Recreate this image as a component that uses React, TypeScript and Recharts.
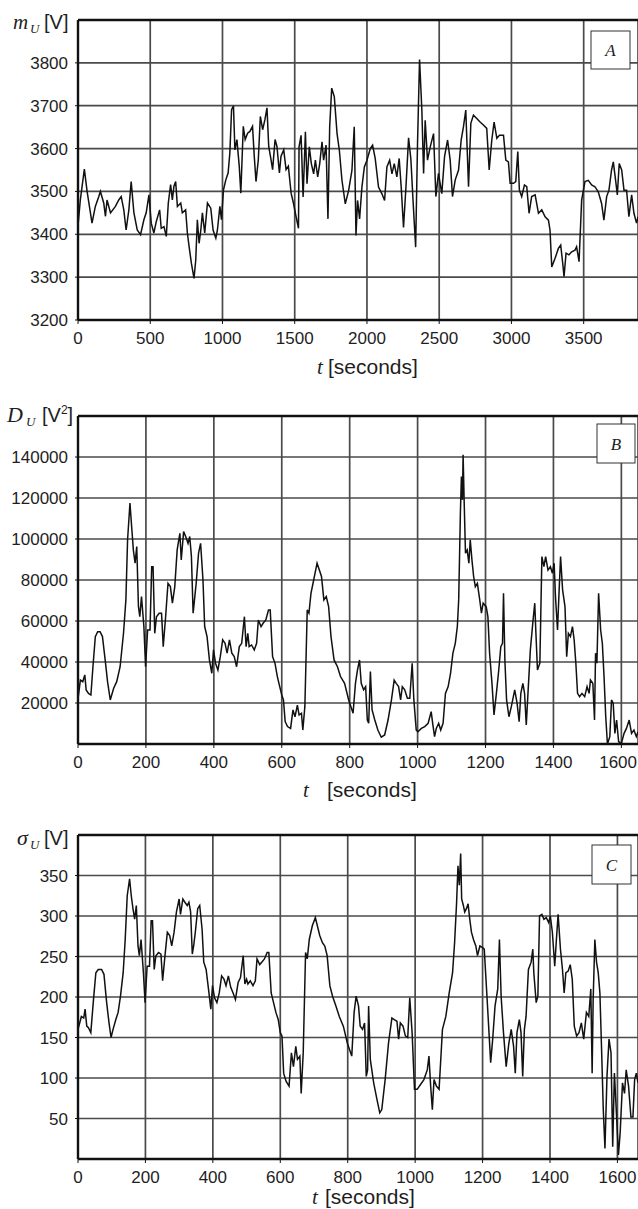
import React from 'react';
import { LineChart, Line, XAxis, YAxis, CartesianGrid, ReferenceLine } from 'recharts';

const SANS = '"Liberation Sans", Arial, sans-serif';
const SERIF = '"Liberation Serif", "Times New Roman", serif';

// Panel A: mean voltage m_U [V] over t [seconds]
const timeA = [
  0, 16, 44, 63, 86, 97, 120, 144, 155, 178,
  190, 201, 225, 259, 282, 299, 317, 333, 352, 368,
  387, 410, 433, 456, 472, 491, 507, 525, 542, 565,
  576, 595, 611, 625, 641, 653, 664, 676, 688, 711,
  722, 745, 757, 769, 785, 803, 815, 826, 838, 850,
  861, 877, 896, 919, 935, 954, 965, 982, 993, 1007,
  1023, 1039, 1051, 1063, 1076, 1086, 1100, 1116, 1127, 1144,
  1157, 1174, 1190, 1208, 1220, 1232, 1248, 1262, 1278, 1294,
  1308, 1320, 1336, 1347, 1364, 1377, 1394, 1405, 1424, 1440,
  1456, 1475, 1491, 1509, 1526, 1530, 1544, 1558, 1574, 1585,
  1601, 1615, 1631, 1643, 1659, 1673, 1689, 1700, 1717, 1730,
  1742, 1756, 1774, 1793, 1809, 1827, 1850, 1873, 1896, 1912,
  1924, 1935, 1949, 1965, 1982, 2000, 2023, 2039, 2057, 2080,
  2103, 2122, 2138, 2157, 2173, 2189, 2207, 2223, 2237, 2253,
  2270, 2288, 2304, 2320, 2337, 2350, 2364, 2380, 2392, 2403,
  2419, 2438, 2461, 2477, 2495, 2518, 2537, 2558, 2576, 2592,
  2611, 2634, 2652, 2668, 2684, 2703, 2719, 2737, 2760, 2783,
  2806, 2829, 2846, 2864, 2880, 2899, 2917, 2945, 2961, 2979,
  2991, 3014, 3030, 3044, 3055, 3071, 3090, 3106, 3122, 3140,
  3164, 3187, 3210, 3233, 3256, 3267, 3279, 3302, 3325, 3341,
  3355, 3364, 3378, 3398, 3417, 3440, 3451, 3468, 3486, 3509,
  3532, 3555, 3578, 3601, 3624, 3640, 3659, 3675, 3693, 3705,
  3721, 3733, 3746, 3763, 3779, 3797, 3813, 3832, 3848, 3866,
  3876
];
const meanU = [
  3420, 3480, 3552, 3500, 3450, 3426, 3465, 3488, 3500, 3473,
  3442, 3480, 3450, 3465, 3480, 3488, 3457, 3410, 3457, 3523,
  3450, 3410, 3399, 3434, 3450, 3492, 3426, 3403, 3430, 3457,
  3414, 3418, 3395, 3473, 3516, 3480, 3512, 3523, 3465, 3473,
  3450, 3457, 3403, 3371, 3332, 3297, 3340, 3434, 3379, 3410,
  3450, 3403, 3473, 3461, 3410, 3391, 3410, 3465, 3434, 3504,
  3527, 3543, 3590, 3691, 3700, 3597, 3621, 3559, 3496, 3652,
  3621, 3636, 3640, 3652, 3582, 3523, 3574, 3675, 3644, 3668,
  3695, 3605, 3574, 3551, 3621, 3605, 3543, 3582, 3597, 3551,
  3559, 3496, 3473, 3442, 3414, 3604, 3631, 3487, 3639, 3518,
  3604, 3565, 3541, 3573, 3534, 3565, 3616, 3573, 3608, 3436,
  3651, 3741, 3721, 3635, 3596, 3526, 3471, 3502, 3549, 3651,
  3397, 3479, 3436, 3510, 3557, 3573, 3600, 3608, 3577, 3510,
  3495, 3479, 3557, 3573, 3541, 3565, 3534, 3577, 3510, 3416,
  3511, 3625, 3575, 3472, 3370, 3612, 3808, 3690, 3542, 3666,
  3573, 3604, 3635, 3488, 3542, 3495, 3581, 3620, 3573, 3488,
  3527, 3550, 3620, 3651, 3690, 3511, 3659, 3678, 3670, 3662,
  3655, 3647, 3550, 3620, 3662, 3624, 3631, 3631, 3573, 3569,
  3519, 3519, 3523, 3593, 3503, 3488, 3515, 3511, 3449, 3488,
  3492, 3449, 3457, 3441, 3433, 3410, 3324, 3344, 3367, 3375,
  3332, 3301, 3356, 3352, 3359, 3363, 3371, 3336, 3480, 3523,
  3526, 3515, 3511, 3499, 3472, 3433, 3488, 3503, 3550, 3569,
  3526, 3492, 3565, 3550, 3503, 3503, 3441, 3492, 3449, 3426,
  3441
];
const ticksAx = [0, 500, 1000, 1500, 2000, 2500, 3000, 3500];
const ticksAy = [3200, 3300, 3400, 3500, 3600, 3700, 3800];

// Panel B: variance D_U [V^2]
const timeB = [
  0, 7, 14, 20, 24, 31, 38, 44, 51, 58,
  65, 72, 80, 87, 95, 105, 114, 124, 134, 141,
  146, 153, 158, 163, 168, 173, 178, 182, 187, 194,
  199, 205, 212, 217, 221, 226, 231, 239, 246, 251,
  258, 265, 272, 278, 285, 292, 300, 304, 311, 317,
  324, 329, 334, 339, 343, 348, 355, 361, 368, 373,
  380, 387, 394, 399, 405, 412, 419, 426, 433, 439,
  446, 453, 460, 467, 475, 482, 490, 495, 500, 504,
  511, 519, 526, 531, 539, 545, 553, 561, 566, 573,
  580, 587, 594, 600, 605, 610, 617, 626, 633, 639,
  646, 651, 658, 662, 668, 675, 680, 686, 694, 704,
  717, 724, 731, 738, 745, 754, 764, 773, 785, 797,
  810, 817, 823, 829, 834, 841, 847, 852, 856, 861,
  866, 874, 883, 893, 903, 913, 923, 931, 937, 944,
  950, 955, 962, 970, 977, 984, 989, 996, 1001, 1011,
  1021, 1031, 1040, 1045, 1050, 1055, 1062, 1068, 1075, 1082,
  1090, 1097, 1104, 1111, 1117, 1121, 1126, 1129, 1132, 1134,
  1137, 1141, 1146, 1151, 1155, 1160, 1165, 1170, 1176, 1183,
  1188, 1193, 1202, 1207, 1212, 1219, 1225, 1232, 1239, 1245,
  1250, 1253, 1257, 1262, 1269, 1276, 1286, 1293, 1299, 1304,
  1310, 1315, 1320, 1325, 1332, 1340, 1345, 1348, 1353, 1360,
  1366, 1372, 1377, 1384, 1391, 1397, 1402, 1406, 1412, 1416,
  1421, 1427, 1434, 1439, 1444, 1450, 1456, 1461, 1466, 1471,
  1477, 1484, 1492, 1499, 1505, 1509, 1516, 1521, 1524, 1528,
  1533, 1539, 1544, 1549, 1554, 1559, 1566, 1571, 1576, 1581,
  1586, 1592, 1600, 1608, 1615, 1623, 1630, 1637, 1644, 1649
];
const varianceU = [
  22000, 31200, 30400, 33700, 26400, 24700, 23900, 37700, 52400, 54800,
  54800, 52400, 41000, 30400, 21500, 27200, 30400, 37700, 54000, 70300,
  99600, 117500, 106000, 94700, 88200, 96300, 67000, 62100, 71900, 57300,
  37700, 55600, 55600, 86500, 86500, 54000, 62100, 63800, 63800, 47500,
  62100, 78400, 76800, 68700, 76800, 94700, 102800, 89800, 103600, 101200,
  97900, 101200, 91400, 63800, 70300, 78400, 93100, 97900, 80000, 57300,
  52400, 41000, 34500, 45900, 39400, 36100, 42600, 50800, 49100, 44300,
  50800, 44300, 42600, 37700, 47500, 49100, 62100, 47500, 54000, 47500,
  48300, 45900, 49100, 60500, 57300, 58900, 60500, 65400, 65400, 42600,
  39400, 32900, 28000, 23900, 21500, 10900, 8500, 7600, 16600, 13300,
  19000, 14200, 15000, 6800, 18200, 65400, 63800, 73500, 80000, 88200,
  81700, 70300, 71900, 67000, 52400, 41000, 37700, 32900, 29600, 21500,
  15000, 29600, 36100, 41000, 29600, 26400, 28000, 11700, 10100, 35300,
  16600, 11700, 6800, 3300, 4400, 11700, 21500, 31200, 29600, 28000,
  21500, 28000, 26400, 22300, 22300, 39400, 21500, 6800, 6000, 7600,
  8500, 10100, 15800, 9300, 3600, 7600, 10100, 6800, 10100, 24700,
  28000, 34500, 44300, 49100, 57300, 70300, 112600, 130500, 119100, 141100,
  119100, 93100, 94700, 88200, 99600, 89800, 81700, 76800, 78400, 70300,
  63800, 68700, 67000, 62100, 44300, 29600, 14200, 24700, 36100, 47500,
  49100, 73500, 41000, 21500, 13300, 18200, 26400, 19800, 10900, 24700,
  29600, 24700, 9300, 24700, 45900, 60500, 68700, 55600, 36100, 39400,
  91400, 86500, 91400, 84800, 86500, 83300, 88200, 71900, 55600, 71900,
  91400, 75200, 67000, 42600, 54000, 52400, 57300, 50800, 39400, 24700,
  23100, 24700, 23100, 28000, 24700, 31200, 29600, 11700, 44300, 39400,
  73500, 55600, 49100, 32900, 13300, 0, 3600, 21500, 19800, 5200,
  11700, 1100, 300, 5200, 7600, 11700, 5200, 6800, 3600, 6000
];
const ticksBx = [0, 200, 400, 600, 800, 1000, 1200, 1400, 1600];
const ticksBy = [20000, 40000, 60000, 80000, 100000, 120000, 140000];

// Panel C: standard deviation sigma_U [V]
const timeC = [
  0, 10, 17, 21, 26, 31, 38, 46, 53, 60,
  70, 77, 85, 92, 98, 104, 112, 119, 126, 134,
  140, 146, 153, 158, 163, 168, 173, 178, 182, 187,
  194, 199, 205, 212, 217, 221, 226, 231, 239, 246,
  251, 258, 265, 272, 278, 285, 292, 300, 304, 311,
  317, 324, 329, 334, 339, 343, 348, 355, 361, 368,
  373, 380, 387, 394, 399, 405, 412, 419, 426, 433,
  439, 446, 453, 460, 467, 475, 482, 490, 495, 500,
  504, 511, 519, 526, 531, 539, 545, 553, 561, 566,
  573, 580, 587, 594, 600, 605, 610, 617, 626, 633,
  639, 646, 651, 658, 662, 668, 675, 680, 686, 695,
  704, 717, 725, 732, 739, 747, 755, 765, 775, 787,
  799, 812, 819, 825, 832, 837, 844, 850, 855, 859,
  862, 867, 877, 887, 895, 901, 911, 921, 931, 938,
  946, 951, 956, 964, 971, 978, 984, 991, 998, 1006,
  1016, 1026, 1036, 1041, 1046, 1051, 1056, 1063, 1071, 1081,
  1091, 1101, 1111, 1117, 1123, 1127, 1131, 1135, 1138, 1143,
  1147, 1152, 1157, 1162, 1167, 1173, 1180, 1185, 1192, 1200,
  1205, 1213, 1218, 1224, 1230, 1237, 1245, 1250, 1255, 1262,
  1270, 1278, 1285, 1292, 1297, 1302, 1309, 1314, 1319, 1324,
  1329, 1336, 1344, 1349, 1352, 1359, 1364, 1369, 1376, 1382,
  1389, 1396, 1401, 1407, 1414, 1419, 1424, 1431, 1437, 1442,
  1447, 1454, 1460, 1466, 1472, 1479, 1486, 1493, 1500, 1508,
  1515, 1521, 1525, 1528, 1533, 1538, 1543, 1548, 1553, 1558,
  1563, 1569, 1575, 1581, 1586, 1591, 1596, 1603, 1608, 1615,
  1621, 1626, 1633, 1640, 1646, 1651, 1656, 1661
];
const sigmaU = [
  160, 176, 174, 185, 164, 162, 156, 197, 230, 234,
  234, 228, 193, 168, 150, 160, 172, 181, 201, 230,
  271, 325, 346, 325, 309, 296, 313, 263, 251, 271,
  230, 193, 238, 238, 294, 294, 234, 251, 255, 253,
  220, 251, 280, 276, 263, 280, 305, 321, 302, 321,
  317, 313, 317, 305, 253, 263, 280, 309, 313, 284,
  243, 234, 210, 185, 214, 199, 193, 205, 226, 222,
  214, 226, 212, 205, 197, 218, 224, 251, 216, 222,
  216, 220, 214, 220, 247, 240, 243, 247, 255, 255,
  205, 193, 181, 172, 156, 152, 106, 96, 90, 131,
  114, 139, 123, 127, 81, 131, 255, 247, 271, 288,
  298, 276, 267, 263, 251, 214, 201, 189, 176, 164,
  143, 127, 181, 201, 189, 164, 160, 168, 102, 110,
  189, 123, 94, 73, 57, 61, 98, 143, 174, 172,
  170, 148, 168, 164, 152, 150, 199, 156, 86, 86,
  92, 98, 110, 127, 90, 61, 98, 90, 86, 160,
  176, 205, 230, 267, 317, 362, 338, 377, 321, 313,
  305, 309, 315, 296, 280, 271, 263, 251, 263, 261,
  259, 201, 164, 119, 148, 189, 210, 271, 201, 156,
  114, 143, 160, 139, 106, 156, 172, 156, 102, 160,
  176, 234, 243, 259, 230, 193, 201, 300, 302, 296,
  298, 292, 300, 280, 238, 271, 302, 259, 234, 205,
  230, 232, 240, 222, 164, 152, 156, 168, 148, 181,
  176, 210, 106, 197, 271, 243, 230, 205, 135, 61,
  13, 102, 148, 131, 15, 106, 65, 5, 32, 94,
  81, 110, 90, 52, 52, 98, 106, 94
];
const ticksCx = [0, 200, 400, 600, 800, 1000, 1200, 1400, 1600];
const ticksCy = [50, 100, 150, 200, 250, 300, 350];

const toRows = (t: number[], v: number[]) => t.map((x, i) => ({ t: x, v: v[i] }));

interface PanelProps {
  top: number;
  plotHeight: number;
  rows: { t: number; v: number }[];
  xMax: number;
  xTicks: number[];
  yMin: number;
  yMax: number;
  yTicks: number[];
}

const TICK_FONT = 17;
const tickStyle = { fontSize: TICK_FONT, fill: '#1e1e1e', fontFamily: SANS };

// x tick label that stays inside the page when it sits at the clipped right edge
const XTick = (props: any) => {
  const { x, y, payload } = props;
  const label = String(payload.value);
  const half = (label.length * TICK_FONT * 0.556) / 2;
  const cx = Math.min(x, 637 - half);
  return (
    <text x={cx} y={y} dy="0.71em" textAnchor="middle" {...tickStyle}>
      {label}
    </text>
  );
};

const Panel: React.FC<PanelProps> = ({ top, plotHeight, rows, xMax, xTicks, yMin, yMax, yTicks }) => (
  <div style={{ position: 'absolute', left: 0, top }}>
    <LineChart
      width={638}
      height={20 + plotHeight + 40}
      data={rows}
      margin={{ top: 20, right: 0, bottom: 0, left: 0 }}
    >
      <CartesianGrid stroke="#4a4a4a" strokeWidth={1.7} />
      <XAxis
        dataKey="t"
        type="number"
        domain={[0, xMax]}
        ticks={xTicks}
        interval={0}
        allowDataOverflow
        height={40}
        tickSize={4}
        tickMargin={8}
        tick={<XTick />}
        axisLine={{ stroke: '#111', strokeWidth: 2.4 }}
        tickLine={{ stroke: '#111' }}
      />
      <YAxis
        type="number"
        domain={[yMin, yMax]}
        ticks={yTicks}
        interval={0}
        allowDataOverflow
        width={78}
        tickSize={3}
        tickMargin={7}
        tick={tickStyle}
        axisLine={{ stroke: '#111', strokeWidth: 2.4 }}
        tickLine={{ stroke: '#111' }}
      />
      <ReferenceLine y={yMax} stroke="#111" strokeWidth={2.4} />
      <Line
        type="linear"
        dataKey="v"
        stroke="#111"
        strokeWidth={1.5}
        dot={false}
        activeDot={false}
        isAnimationActive={false}
      />
    </LineChart>
  </div>
);

const PanelTag: React.FC<{ x: number; y: number; w: number; h: number; label: string }> = ({ x, y, w, h, label }) => (
  <g>
    <rect x={x} y={y} width={w} height={h} fill="#fff" stroke="#333" strokeWidth={1} />
    <text
      x={x + w / 2}
      y={y + h / 2 + 6}
      textAnchor="middle"
      fontFamily={SERIF}
      fontStyle="italic"
      fontSize={17}
      fill="#222"
    >
      {label}
    </text>
  </g>
);

const TimeTitle: React.FC<{ tx: number; bx: number; y: number }> = ({ tx, bx, y }) => (
  <g fill="#1e1e1e">
    <text x={tx} y={y} fontFamily={SERIF} fontStyle="italic" fontSize={21}>t</text>
    <text x={bx} y={y} fontFamily={SANS} fontSize={21}>[seconds]</text>
  </g>
);

export default function App() {
  return (
    <div
      style={{
        position: 'absolute',
        left: 0,
        top: 0,
        width: 638,
        height: 1209,
        overflow: 'hidden',
        background: '#fff'
      }}
    >
      <Panel
        top={0}
        plotHeight={300}
        rows={toRows(timeA, meanU)}
        xMax={3876}
        xTicks={ticksAx}
        yMin={3200}
        yMax={3900}
        yTicks={ticksAy}
      />
      <Panel
        top={396}
        plotHeight={328}
        rows={toRows(timeB, varianceU)}
        xMax={1649}
        xTicks={ticksBx}
        yMin={0}
        yMax={160000}
        yTicks={ticksBy}
      />
      <Panel
        top={815}
        plotHeight={324}
        rows={toRows(timeC, sigmaU)}
        xMax={1661}
        xTicks={ticksCx}
        yMin={0}
        yMax={400}
        yTicks={ticksCy}
      />
      <svg
        width={638}
        height={1209}
        style={{ position: 'absolute', left: 0, top: 0, pointerEvents: 'none' }}
      >
        {/* y-axis titles */}
        <g fill="#1e1e1e">
          <text x={13} y={29} fontFamily={SERIF} fontStyle="italic" fontSize={21}>m</text>
          <text x={30} y={33} fontFamily={SERIF} fontStyle="italic" fontSize={13}>U</text>
          <text x={44} y={29} fontFamily={SANS} fontSize={20}>[V]</text>

          <text x={7} y={422} fontFamily={SERIF} fontStyle="italic" fontSize={22}>D</text>
          <text x={26} y={426} fontFamily={SERIF} fontStyle="italic" fontSize={13}>U</text>
          <text x={42} y={422} fontFamily={SANS} fontSize={20}>
            [V<tspan fontSize={12} dy={-8}>2</tspan><tspan dy={8}>]</tspan>
          </text>

          <text x={17} y={845} fontFamily={SERIF} fontStyle="italic" fontSize={22}>σ</text>
          <text x={30} y={849} fontFamily={SERIF} fontStyle="italic" fontSize={13}>U</text>
          <text x={44} y={845} fontFamily={SANS} fontSize={20}>[V]</text>
        </g>

        {/* x-axis titles */}
        <TimeTitle tx={317} bx={328} y={374} />
        <TimeTitle tx={303} bx={327} y={797} />
        <TimeTitle tx={312} bx={325} y={1204} />

        {/* panel tags */}
        <PanelTag x={591} y={31} w={39} h={38} label="A" />
        <PanelTag x={597} y={424} w={38} h={39} label="B" />
        <PanelTag x={592} y={845} w={39} h={39} label="C" />
      </svg>
    </div>
  );
}
